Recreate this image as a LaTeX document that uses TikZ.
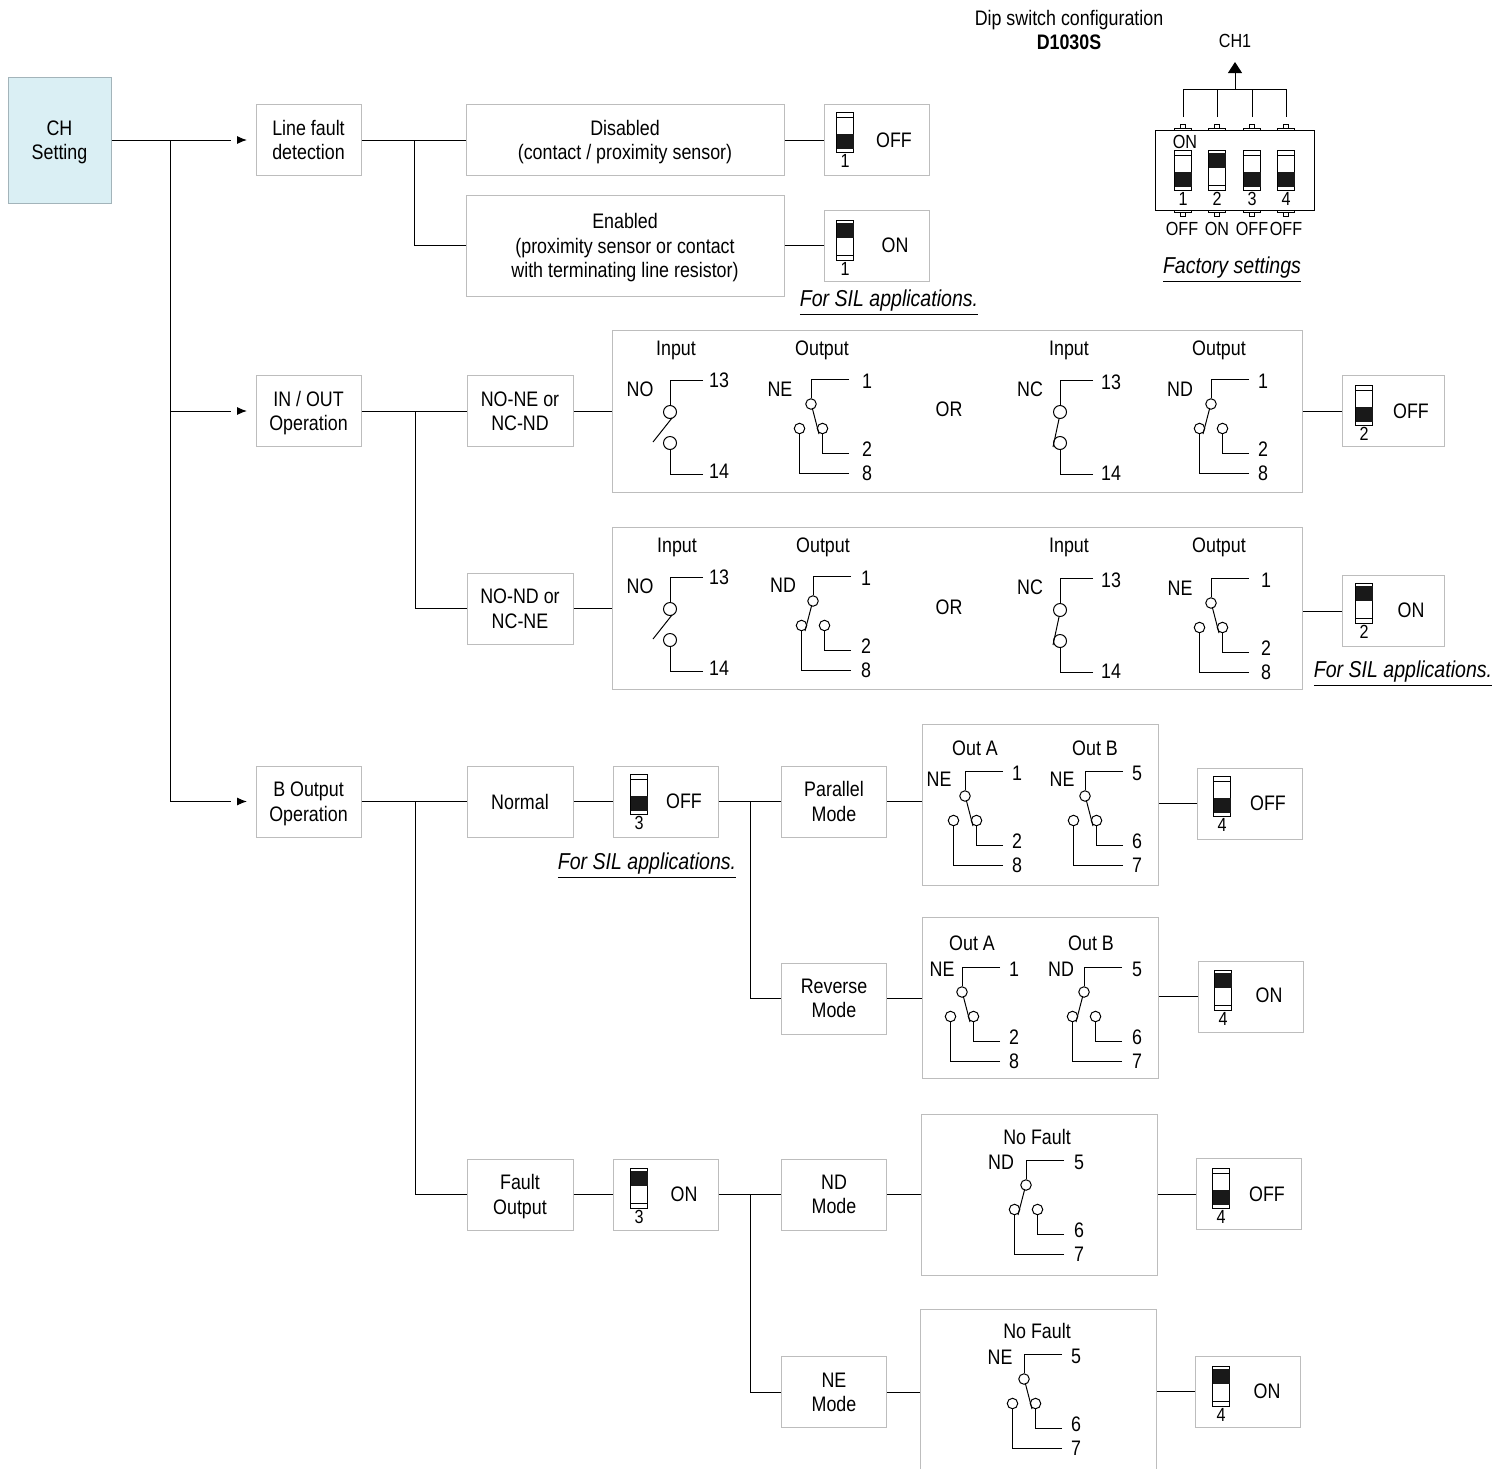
\documentclass[tikz,border=0pt]{standalone}
\usepackage{fontspec}
\setmainfont[FakeStretch=0.85]{Liberation Sans}
\usetikzlibrary{arrows.meta,positioning}

\definecolor{boxgray}{HTML}{BDBDBD}
\definecolor{chfill}{HTML}{DAEFF4}
\definecolor{chline}{HTML}{A3B4BA}

\tikzset{
  every node/.style={inner sep=0pt,text depth=0pt,font=\fontsize{10.5}{12.2}\selectfont,align=center},
  box/.style={draw=boxgray,fill=white,line width=.5pt,minimum width=52.5pt,minimum height=35.5pt},
  panel/.style={box,minimum width=118pt,minimum height=80.5pt},
  longpanel/.style={box,minimum width=345pt,minimum height=81pt},
  wire/.style={line width=.5pt},
  tiny/.style={font=\fontsize{9.5}{11}\selectfont},
  sil/.style={font=\fontsize{11.5}{13}\selectfont\itshape},
  smallpole/.style={circle,draw,fill=white,line width=.5pt,minimum size=5.25pt},
  bigpole/.style={circle,draw,fill=white,line width=.5pt,minimum size=6.5pt},
  tiphead/.style={-{Latex[length=5pt,width=4pt]},line width=.5pt},
  dipbody/.style={draw,line width=.5pt,minimum width=8.5pt,minimum height=20pt},
  dipslide/.style={fill=black!90,minimum width=8.5pt,minimum height=7.25pt},
  pinstem/.style={draw,line width=.4pt,fill=white,minimum width=2.5pt,minimum height=2.5pt},
  pinbase/.style={draw,line width=.4pt,fill=white,minimum width=8.5pt,minimum height=1pt}
}

% dip lever in the lower (off) position
\newcommand{\switchoff}[3]{
  \begin{scope}[shift={(#2)}]
    \node[dipbody](#1body) at (0,20) {};
    \node[dipslide](#1slide) at (0,29.5) {};
    \draw[wire] (-8.5,5) -- (8.5,5);
    \node[tiny](#1num) at (0,49) {#3};
  \end{scope}
}
% dip lever in the upper (on) position
\newcommand{\switchon}[3]{
  \begin{scope}[shift={(#2)}]
    \node[dipbody](#1body) at (0,20) {};
    \node[dipslide](#1slide) at (0,10.5) {};
    \draw[wire] (-8.5,35) -- (8.5,35);
    \node[tiny](#1num) at (0,49) {#3};
  \end{scope}
}
% two pole contact: name, top corner, lever ends, label, terminal offsets, terminals
\newcommand{\makebreak}[9]{
  \begin{scope}[shift={(#2)}]
    \node[bigpole](#1a) at (0,32) {};
    \node[bigpole](#1b) at (0,63) {};
    \coordinate(#1t) at (33,0);
    \coordinate(#1u) at (33,94);
    \draw[wire] (#1t) -| (#1a);
    \draw[wire] (#1u) -| (#1b);
    \draw[wire] (#3) -- (#4);
    \node(#1lab) at (-30,9) {#5};
    \node(#1n) at (#6,#7) {#8};
    \node(#1m) at (#6,#7+91) {#9};
  \end{scope}
}
% change-over contact: name, top corner, lever side, label, label offset, terminal x, terminals
\newcommand{\changeover}[9]{
  \begin{scope}[shift={(#2)}]
    \node[smallpole](#1c) at (0,25) {};
    \node[smallpole](#1r) at (11.5,49.5) {};
    \node[smallpole](#1l) at (-11.5,49.5) {};
    \coordinate(#1t) at (38,0);
    \coordinate(#1u) at (38,74);
    \coordinate(#1v) at (38,94);
    \draw[wire] (#1t) -| (#1c);
    \draw[wire] (#1u) -| (#1r);
    \draw[wire] (#1v) -| (#1l);
    \draw[wire] (#3*1.5,30) -- (#3*8,55);
    \node(#1lab) at (#5) {#4};
    \node(#1n) at (#6,2) {#7};
    \node(#1m) at (#6,70.5) {#8};
    \node(#1k) at (#6,94.5) {#9};
  \end{scope}
}

\begin{document}
\begin{tikzpicture}[x=0.5pt,y=-0.5pt]
  \clip (0,0) rectangle (1499,1468);

  % main column
  \node[box,fill=chfill,draw=chline,minimum width=51.5pt,minimum height=63pt,align=center](CH) at (59.5,140) {CH\\Setting};
  \node[box](LF) at (308.5,140) {Line fault\\detection};
  \node[box](IO) at (308.5,411) {IN / OUT\\Operation};
  \node[box](BO) at (308.5,801.5) {B Output\\Operation};

  \coordinate(J1) at (170,140);
  \coordinate(J2) at (170,411);
  \coordinate(J3) at (170,801.5);
  \coordinate(A1) at (231,140);
  \coordinate(A2) at (231,411);
  \coordinate(A3) at (231,801.5);
  \coordinate(B1) at (237,140);
  \coordinate(B2) at (237,411);
  \coordinate(B3) at (237,801.5);
  \coordinate(C1) at (247,140);
  \coordinate(C2) at (247,411);
  \coordinate(C3) at (247,801.5);

  \draw[wire] (CH) -- (A1) (J2) -- (A2) (J3) -- (A3);
  \draw[wire] (J1) -- (J3);
  \draw[tiphead] (B1) -- (C1);
  \draw[tiphead] (B2) -- (C2);
  \draw[tiphead] (B3) -- (C3);

  % line fault detection
  \node[box,minimum width=159pt](DIS) at (625,140) {Disabled\\(contact / proximity sensor)};
  \node[box,minimum width=159pt,minimum height=50.5pt](ENA) at (625,245.5) {Enabled\\(proximity sensor or contact\\with terminating line resistor)};
  \node[box](S1off) at (876.5,140) {};
  \node[box](S1on) at (876.5,245.5) {};
  \switchoff{SA}{845,112}{1}
  \switchon{SB}{845,220}{1}
  \node(SAt) at (894,140) {OFF};
  \node(SBt) at (895,245) {ON};
  \node[sil](SIL1) at (889,298) {\underline{For SIL applications.}};

  \coordinate(J4) at (414,140);
  \draw[wire] (LF) -- (DIS) (J4) |- (ENA);
  \draw[wire] (DIS) -- (S1off) (ENA) -- (S1on);

  % in / out operation
  \node[box,minimum width=53pt](NN) at (520,411) {NO-NE or\\NC-ND};
  \node[box,minimum width=53pt](NM) at (520,608.5) {NO-ND or\\NC-NE};
  \node[longpanel](P1) at (957,411) {};
  \node[longpanel](P2) at (957,608) {};
  \node[box,minimum width=51pt](S2off) at (1393,411) {};
  \node[box,minimum width=51pt](S2on) at (1393,611) {};
  \switchoff{SC}{1364,385}{2}
  \switchon{SD}{1364,583}{2}
  \node(SCt) at (1411,411) {OFF};
  \node(SDt) at (1411,610) {ON};
  \node[sil](SIL2) at (1403,669) {\underline{For SIL applications.}};

  \coordinate(J5) at (415,411);
  \draw[wire] (IO) -- (NN) (J5) |- (NM);
  \draw[wire] (NN) -- (P1) (P1) -- (S2off);
  \draw[wire] (NM) -- (NM -| P2.west) (S2on) -- (S2on -| P2.east);

  \node(I1) at (676,348) {Input};
  \node(O1) at (822,348) {Output};
  \node(I2) at (1069,348) {Input};
  \node(O2) at (1219,348) {Output};
  \node(OR1) at (949,409) {OR};
  \makebreak{NOa}{670,380}{-17,62}{2,38}{NO}{49}{0}{13}{14}
  \changeover{NEa}{811,379}{1}{NE}{-31,10}{56}{1}{2}{8}
  \makebreak{NCa}{1060,380}{-1,39}{-7,67}{NC}{51}{2}{13}{14}
  \changeover{NDa}{1211,379}{-1}{ND}{-31,10}{52}{1}{2}{8}

  \node(I3) at (677,545) {Input};
  \node(O3) at (823,545) {Output};
  \node(I4) at (1069,545) {Input};
  \node(O4) at (1219,545) {Output};
  \node(OR2) at (949,607) {OR};
  \makebreak{NOb}{670,577}{-17,62}{2,38}{NO}{49}{0}{13}{14}
  \changeover{NDb}{813,576}{-1}{ND}{-30,9}{53}{1}{2}{8}
  \makebreak{NCb}{1060,578}{-1,39}{-7,67}{NC}{51}{2}{13}{14}
  \changeover{NEb}{1211,578}{1}{NE}{-31,10}{55}{1}{2}{8}

  % b output, normal
  \node[box,minimum width=53pt](NOR) at (520,801.5) {Normal};
  \node[box](S3off) at (665.5,801.5) {};
  \switchoff{SE}{639,774}{3}
  \node(SEt) at (684,801) {OFF};
  \node[sil](SIL3) at (647,861) {\underline{For SIL applications.}};
  \node[box](PAR) at (834,801.5) {Parallel\\Mode};
  \node[box](REV) at (834,998.5) {Reverse\\Mode};
  \node[panel](P3) at (1040,804.5) {};
  \node[panel](P4) at (1040.5,997.5) {};
  \node[box](S4a) at (1250,803.5) {};
  \node[box](S4b) at (1251,996.5) {};
  \switchoff{SF}{1222,776}{4}
  \switchon{SG}{1223,970}{4}
  \node(SFt) at (1268,803) {OFF};
  \node(SGt) at (1269,995) {ON};

  \coordinate(J6) at (415,801.5);
  \coordinate(J7) at (750,801.5);
  \draw[wire] (BO) -- (NOR) (NOR) -- (S3off) (S3off) -- (PAR) (J7) |- (REV);
  \draw[wire] (PAR) -- (PAR -| P3.west) (S4a) -- (S4a -| P3.east);
  \draw[wire] (REV) -- (REV -| P4.west) (S4b) -- (S4b -| P4.east);

  \node(OA1) at (975,748) {Out A};
  \node(OB1) at (1095,748) {Out B};
  \changeover{NEc}{965,771}{1}{NE}{-26,8}{52}{1}{2}{8}
  \changeover{NEd}{1085,771}{1}{NE}{-23,8}{52}{5}{6}{7}
  \node(OA2) at (972,943) {Out A};
  \node(OB2) at (1091,943) {Out B};
  \changeover{NEe}{962,967}{1}{NE}{-20,2}{52}{1}{2}{8}
  \changeover{NDc}{1084,967}{-1}{ND}{-23,2}{53}{5}{6}{7}

  % b output, fault output
  \node[box,minimum width=53pt](FLT) at (520,1194.5) {Fault\\Output};
  \node[box](S3on) at (665.5,1194.5) {};
  \switchon{SH}{639,1168}{3}
  \node(SHt) at (684,1194) {ON};
  \node[box](NDM) at (834,1194.5) {ND\\Mode};
  \node[box](NEM) at (834,1392) {NE\\Mode};
  \node[panel](P5) at (1039,1195) {};
  \node[panel,minimum height=80pt](P6) at (1038.5,1389) {};
  \node[box](S4c) at (1249,1194) {};
  \node[box](S4d) at (1248,1391.5) {};
  \switchoff{SI}{1221,1168}{4}
  \switchon{SJ}{1221,1366}{4}
  \node(SIt) at (1267,1194) {OFF};
  \node(SJt) at (1267,1391) {ON};

  \coordinate(J8) at (750,1194.5);
  \draw[wire] (J6) |- (FLT);
  \draw[wire] (FLT) -- (S3on) (S3on) -- (NDM) (J8) |- (NEM);
  \draw[wire] (NDM) -- (NDM -| P5.west) (S4c) -- (S4c -| P5.east);
  \draw[wire] (NEM) -- (NEM -| P6.west) (S4d) -- (S4d -| P6.east);

  \node(NF1) at (1037,1137) {No Fault};
  \changeover{NDd}{1026,1160}{-1}{ND}{-25,2}{53}{5}{6}{7}
  \node(NF2) at (1037,1331) {No Fault};
  \changeover{NEf}{1024,1354}{1}{NE}{-24,3}{52}{5}{6}{7}

  % factory settings
  \node(T1) at (1069,18) {Dip switch configuration};
  \node(T2) at (1069,42) {\bfseries D1030S};
  \node[tiny](CH1) at (1235,41) {CH1};
  \node[pinstem](U1) at (1183,127) {};
  \node[pinstem](U2) at (1217,127) {};
  \node[pinstem](U3) at (1252,127) {};
  \node[pinstem](U4) at (1286,127) {};
  \node[pinstem](D1) at (1183,213.5) {};
  \node[pinstem](D2) at (1217,213.5) {};
  \node[pinstem](D3) at (1252,213.5) {};
  \node[pinstem](D4) at (1286,213.5) {};
  \node[pinbase](V1) at (1183,129) {};
  \node[pinbase](V2) at (1217,129) {};
  \node[pinbase](V3) at (1252,129) {};
  \node[pinbase](V4) at (1286,129) {};
  \node[pinbase](W1) at (1183,211) {};
  \node[pinbase](W2) at (1217,211) {};
  \node[pinbase](W3) at (1252,211) {};
  \node[pinbase](W4) at (1286,211) {};
  \node[draw,fill=white,line width=.5pt,minimum width=79.5pt,minimum height=40pt](DIP) at (1234.5,170) {};
  \node[tiny](ONt) at (1185,142) {ON};
  \switchoff{K1}{1183,150}{1}
  \switchon{K2}{1217,150}{2}
  \switchoff{K3}{1252,150}{3}
  \switchoff{K4}{1286,150}{4}
  \node[tiny](F1) at (1182,229) {OFF};
  \node[tiny](F2) at (1217,229) {ON};
  \node[tiny](F3) at (1252,229) {OFF};
  \node[tiny](F4) at (1286,229) {OFF};
  \node[sil](FS) at (1232,265) {\underline{Factory settings}};

  \coordinate(E1) at (1183,117);
  \coordinate(E2) at (1217,117);
  \coordinate(E3) at (1252,117);
  \coordinate(E4) at (1286,117);
  \coordinate(R1) at (1183,89);
  \coordinate(R2) at (1217,89);
  \coordinate(R3) at (1252,89);
  \coordinate(R4) at (1286,89);
  \coordinate(R5) at (1235,89);
  \coordinate(TOP) at (1235,62);
  \draw[wire] (E1) -- (R1) -- (R4) -- (E4) (E2) -- (R2) (E3) -- (R3);
  \draw[wire,-{Triangle[length=5.5pt,width=7pt]}] (R5) -- (TOP);
\end{tikzpicture}
\end{document}
